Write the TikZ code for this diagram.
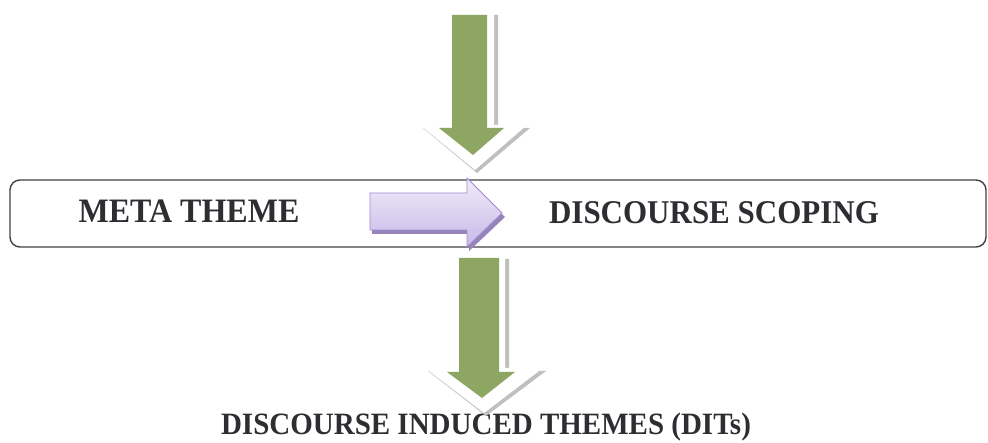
\documentclass[tikz,border=0pt]{standalone}
\usepackage{fontspec}
\setmainfont{Liberation Serif}
\newcommand{\tallcaps}[1]{\scalebox{1}[1.07]{#1}}
\begin{document}
\definecolor{leaf}{RGB}{141,166,98}
\definecolor{lilac}{RGB}{200,184,232}
\definecolor{lilacpale}{RGB}{240,236,250}
\definecolor{lilacedge}{RGB}{160,136,210}
\definecolor{lilacshade}{RGB}{150,132,186}
\definecolor{ink}{RGB}{45,45,50}
\begin{tikzpicture}[x=1pt,y=-1pt,
  label/.style={font=\bfseries\fontsize{31}{31}\selectfont, text=ink, inner sep=0pt, anchor=base},
  frame/.style={draw=ink!90, line width=1.4pt, rounded corners=10pt},
  halo/.style={fill=white},
  haloshade/.style={fill=black!25},
  greenarrow/.style={fill=leaf},
  pointer/.style={draw=lilacedge, line width=0.8pt, top color=lilacpale, bottom color=lilac}]
\useasboundingbox (0,0) rectangle (988,443);

% main band
\node[frame, minimum width=976pt, minimum height=67pt, inner sep=0pt] (band) at (498,213.5) {};

% labels
\node[label, font=\bfseries\fontsize{32}{32}\selectfont] (meta) at (189,223) {\tallcaps{META THEME}};
\node[label] (scope) at (714,224) {\tallcaps{DISCOURSE SCOPING}};
\node[label, font=\bfseries\fontsize{29}{29}\selectfont] (dits) at (486,435) {\tallcaps{DISCOURSE INDUCED THEMES (DITs)}};

% incoming arrow from above
\fill[haloshade] (451,15) -- (498,15) -- (498,128) -- (530,128) -- (477,173) -- (423,128) -- (451,128) -- cycle;
\fill[halo] (448,12) -- (494,12) -- (494,125) -- (527,125) -- (475,170) -- (420,125) -- (448,125) -- cycle;
\fill[greenarrow] (452,15) -- (487,15) -- (487,128) -- (504,128) -- (473,155) -- (439,128) -- (452,128) -- cycle;

% outgoing arrow below the band
\fill[haloshade] (458,259) -- (509,259) -- (509,371) -- (546,371) -- (486,416) -- (428,371) -- (458,371) -- cycle;
\fill[halo] (455,256) -- (505,256) -- (505,368) -- (543,368) -- (484,413) -- (425,368) -- (455,368) -- cycle;
\fill[greenarrow] (459,258) -- (499,258) -- (499,372) -- (515,372) -- (482,398) -- (447,372) -- (459,372) -- cycle;

% sideways pointer from META THEME to DISCOURSE SCOPING
\fill[lilacshade] (372,197) -- (469,197) -- (469,182) -- (505,217) -- (469,251) -- (469,234) -- (372,234) -- cycle;
\path[pointer] (370,193) -- (467,193) -- (467,178) -- (502,213) -- (467,247) -- (467,230) -- (370,230) -- cycle;

\end{tikzpicture}
\end{document}
